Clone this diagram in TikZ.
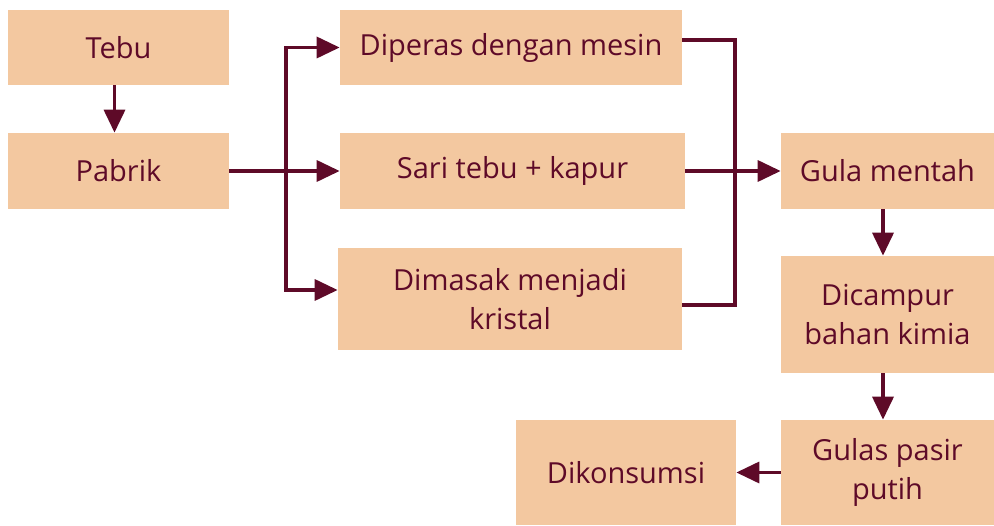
\documentclass[tikz,border=0pt]{standalone}
\usepackage{fontspec}
\setmainfont{Open Sans}
\usetikzlibrary{arrows.meta}

\definecolor{peach}{HTML}{F3C8A0}
\definecolor{maroon}{HTML}{5E0A28}

\begin{document}
\begin{tikzpicture}[font=\fontsize{16.5}{22.5}\selectfont]

\tikzstyle{BOX} = [rectangle, inner sep=0pt, text centered, align=center, fill=peach, text=maroon]
\tikzstyle{arrow} = [line width=2pt, draw=maroon, -{Triangle[length=0.46cm, width=0.42cm]}]
\tikzstyle{line} = [line width=2pt, draw=maroon]

\useasboundingbox (0,0) rectangle (19.88,10.5);

\node (tebu) [BOX, minimum width=4.42cm, minimum height=1.5cm] at (2.37,9.55) {Tebu};
\node (pabrik) [BOX, minimum width=4.42cm, minimum height=1.52cm] at (2.37,7.08) {Pabrik};
\node (diperas) [BOX, minimum width=6.84cm, minimum height=1.5cm] at (10.22,9.55) {Diperas dengan mesin};
\node (sari) [BOX, minimum width=6.9cm, minimum height=1.52cm] at (10.25,7.08) {Sari tebu + kapur};
\node (dimasak) [BOX, minimum width=6.88cm, minimum height=2.04cm] at (10.2,4.52) {Dimasak menjadi\\kristal};
\node (mentah) [BOX, minimum width=4.26cm, minimum height=1.52cm] at (17.75,7.08) {Gula mentah};
\node (campur) [BOX, minimum width=4.26cm, minimum height=2.34cm] at (17.75,4.21) {Dicampur\\bahan kimia};
\node (pasir) [BOX, minimum width=4.26cm, minimum height=2.1cm] at (17.75,1.05) {Gulas pasir\\putih};
\node (konsumsi) [BOX, minimum width=4.4cm, minimum height=2.1cm] at (12.52,1.05) {Dikonsumsi};

\coordinate (split) at (5.72,7.08);
\coordinate (join) at (14.7,7.08);

\draw[arrow] ([xshift=-0.08cm]tebu.south) -- ([xshift=-0.08cm]pabrik.north);
\draw[arrow] (pabrik) -- (sari);
\draw[arrow] (split) |- (diperas.west);
\draw[arrow] (split) |- ([yshift=0.18cm]dimasak.west);
\draw[line] ([yshift=0.15cm]diperas.east) -| (join) |- ([yshift=-0.12cm]dimasak.east);
\draw[arrow] (sari) -- (mentah);
\draw[arrow] ([xshift=-0.09cm]mentah.south) -- ([xshift=-0.09cm]campur.north);
\draw[arrow] ([xshift=-0.09cm]campur.south) -- ([xshift=-0.09cm]pasir.north);
\draw[arrow] (pasir) -- (konsumsi);

\end{tikzpicture}
\end{document}
